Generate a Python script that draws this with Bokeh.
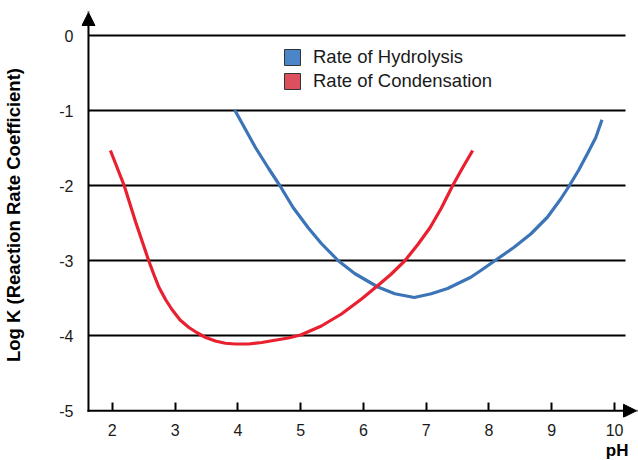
from bokeh.plotting import figure
from bokeh.models import (Range1d, Legend, LegendItem, Arrow, NormalHead,
                          FixedTicker, Title, LinearAxis)
from bokeh.embed import file_html
from bokeh.resources import INLINE

# ---- data ----
ph_condensation = [1.97, 2.19, 2.37, 2.58, 2.66, 2.74, 2.85, 2.95, 3.08, 3.22,
                   3.35, 3.48, 3.64, 3.80, 3.96, 4.17, 4.38, 4.59, 4.80, 5.00,
                   5.33, 5.65, 5.97, 6.23, 6.44, 6.66, 6.87, 7.06, 7.24, 7.42,
                   7.58, 7.74]
logk_condensation = [-1.53, -2.00, -2.48, -3.00, -3.18, -3.35, -3.52, -3.65, -3.79, -3.89,
                     -3.96, -4.02, -4.07, -4.10, -4.11, -4.11, -4.09, -4.06, -4.03, -3.99,
                     -3.87, -3.71, -3.51, -3.33, -3.18, -3.00, -2.78, -2.56, -2.30, -2.00,
                     -1.76, -1.53]

ph_hydrolysis = [3.95, 4.28, 4.49, 4.67, 4.88, 5.12, 5.33, 5.60, 5.86, 6.23,
                 6.50, 6.81, 7.08, 7.34, 7.71, 7.87, 8.11, 8.40, 8.67, 8.93,
                 9.14, 9.28, 9.43, 9.57, 9.70, 9.80]
logk_hydrolysis = [-0.99, -1.49, -1.77, -2.00, -2.29, -2.56, -2.77, -3.00, -3.17, -3.35,
                   -3.44, -3.49, -3.44, -3.37, -3.22, -3.13, -2.99, -2.82, -2.64, -2.42,
                   -2.18, -2.00, -1.79, -1.57, -1.36, -1.12]

x_ticks = [2, 3, 4, 5, 6, 7, 8, 9, 10]
y_ticks = [0, -1, -2, -3, -4, -5]
grid_ticks = [0, -1, -2, -3, -4]
series_labels = ["Rate of Hydrolysis", "Rate of Condensation"]

# axis geometry (data units)
X_ORIGIN, X_END, X_GRID_END = 1.62, 10.35, 10.17
Y_ORIGIN, Y_TOP = -5.0, 0.31

FONT = "Liberation Sans"
RED = "#e8202f"
BLUE = "#3c74b8"
NAN = float("nan")

p = figure(width=638, height=460,
           x_range=Range1d(1.509, X_END), y_range=Range1d(-5.09, Y_TOP),
           output_backend="svg", toolbar_location=None,
           min_border_left=79, min_border_right=2,
           min_border_top=12, min_border_bottom=43)
p.outline_line_color = None
p.background_fill_color = "white"
p.border_fill_color = "white"

# horizontal grid lines, starting at the y axis
p.xgrid.visible = False
p.ygrid.ticker = FixedTicker(ticks=grid_ticks)
p.ygrid.grid_line_color = "black"
p.ygrid.grid_line_width = 2
p.ygrid.cross_bounds = (X_ORIGIN, X_GRID_END)

# x axis 1: drawn at y = -5, inward tick marks only (labels not drawn)
xa = p.xaxis[0]
xa.fixed_location = Y_ORIGIN
xa.ticker = FixedTicker(ticks=x_ticks)
xa.axis_line_color = None
xa.major_tick_in = 8
xa.major_tick_out = 0
xa.major_tick_line_width = 2
xa.major_tick_line_color = "black"
xa.minor_tick_line_color = None
xa.major_label_text_font_size = "1px"
xa.major_label_text_color = None
xa.major_label_standoff = 0

# x axis 2: tick labels only
xlab = LinearAxis(ticker=FixedTicker(ticks=x_ticks),
                  axis_line_color=None, major_tick_line_color=None,
                  minor_tick_line_color=None,
                  major_label_text_font=FONT, major_label_text_font_size="16px",
                  major_label_text_color="#1a1a1a", major_label_standoff=0)
p.add_layout(xlab, "below")

# y axis (labels only)
ya = p.yaxis[0]
ya.ticker = FixedTicker(ticks=y_ticks)
ya.major_label_overrides = {t: str(t) for t in y_ticks}
ya.axis_line_color = None
ya.major_tick_line_color = None
ya.minor_tick_line_color = None
ya.major_label_text_font = FONT
ya.major_label_text_font_size = "16px"
ya.major_label_text_color = "#1a1a1a"
ya.major_label_standoff = 2
ya.axis_label = "Log K (Reaction Rate Coefficient)"
ya.axis_label_text_font = FONT
ya.axis_label_text_font_style = "bold"
ya.axis_label_text_font_size = "18.5px"
ya.axis_label_text_color = "black"
ya.axis_label_standoff = 32

# pH label at the bottom right
p.add_layout(Title(text="pH", align="right", offset=8, standoff=0,
                   text_font=FONT, text_font_style="bold", text_font_size="17px",
                   text_color="black"), "below")

# curves
p.line(ph_hydrolysis, logk_hydrolysis, line_color=BLUE, line_width=3.2)
p.line(ph_condensation, logk_condensation, line_color=RED, line_width=3.2)

# legend swatches (renderers with no visible point)
r_h = p.quad(left=[NAN], right=[NAN], top=[NAN], bottom=[NAN], fill_color="#4a86c8",
             line_color="#333333", line_width=1)
r_c = p.quad(left=[NAN], right=[NAN], top=[NAN], bottom=[NAN], fill_color="#dc4f5f",
             line_color="#333333", line_width=1)
legend = Legend(items=[LegendItem(label=series_labels[0], renderers=[r_h]),
                       LegendItem(label=series_labels[1], renderers=[r_c])],
                location=(201, 325), orientation="vertical",
                glyph_width=20, glyph_height=20, label_height=20, spacing=2,
                padding=0, margin=0, label_standoff=11,
                border_line_color=None, background_fill_alpha=0,
                label_text_font=FONT, label_text_font_size="18.5px",
                label_text_color="#1a1a1a")
p.add_layout(legend)

# axis lines with arrow heads
p.add_layout(Arrow(end=NormalHead(size=13, fill_color="black", line_color="black"),
                   x_start=X_ORIGIN, y_start=Y_ORIGIN, x_end=X_ORIGIN, y_end=Y_TOP,
                   line_width=2, line_color="black", line_cap="square"))
p.add_layout(Arrow(end=NormalHead(size=13, fill_color="black", line_color="black"),
                   x_start=X_ORIGIN, y_start=Y_ORIGIN, x_end=X_END, y_end=Y_ORIGIN,
                   line_width=2, line_color="black", line_cap="square"))

open("out.html", "w").write(file_html(p, INLINE))
